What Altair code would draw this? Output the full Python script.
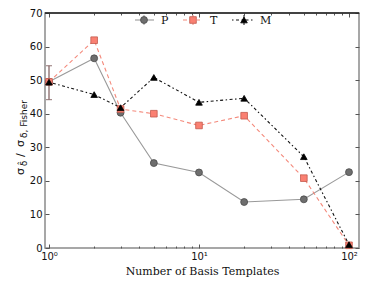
import altair as alt
import pandas as pd

# ---- data ----
templates = [1, 2, 3, 5, 10, 20, 50, 100]
p_vals = [49.5, 56.5, 40.3, 25.3, 22.5, 13.7, 14.5, 22.6]
t_vals = [49.5, 61.9, 41.4, 40.0, 36.5, 39.4, 20.8, 0.8]
m_vals = [49.4, 45.7, 41.8, 50.8, 43.4, 44.6, 27.2, 1.0]
err_x = [1]
err_lo = [44.2]
err_hi = [54.3]
series_names = ["P", "T", "M"]
y_ticks = [0, 10, 20, 30, 40, 50, 60, 70]
x_major = [1, 10, 100]
x_minor = [2, 3, 4, 5, 6, 7, 8, 9, 20, 30, 40, 50, 60, 70, 80, 90]

rows = []
for name, vals in zip(series_names, [p_vals, t_vals, m_vals]):
    for t, v in zip(templates, vals):
        rows.append({"n": t, "v": v, "s": name})
df = pd.DataFrame(rows)
err_df = pd.DataFrame({"n": err_x, "lo": err_lo, "hi": err_hi})

W, H = 314, 235
xscale = alt.Scale(type="log", domain=[0.9404, 116.6], nice=False)
yscale = alt.Scale(domain=[0, 70], nice=False, zero=False)

TICK = "#555555"
styles = {
    "P": dict(line="#999999", dash=[], fill="#6e6e6e", stroke="#4a4a4a", shape="circle", size=48),
    "T": dict(line="#f4897b", dash=[4, 3], fill="#fa8072", stroke="#c25a4e", shape="square", size=44),
    "M": dict(line="#111111", dash=[1.5, 2.5, 3, 2.5], fill="#000000", stroke="#000000", shape="triangle-up", size=44),
}

label_expr = "datum.value == 1 ? '10⁰' : datum.value == 10 ? '10¹' : '10²'"

def xax(**kw):
    base = dict(grid=False, domain=False, tickColor=TICK, title=None)
    base.update(kw)
    return alt.Axis(**base)

base = alt.Chart(df)
layers = []

# axis carrier: bottom major + left major
layers.append(base.mark_point(opacity=0).encode(
    x=alt.X("n:Q", scale=xscale, axis=xax(
        orient="bottom", values=x_major, offset=-4, tickSize=4, labelExpr=label_expr,
        labelFont="DejaVu Sans", labelFontSize=10, labelColor="#111", labelPadding=3,
        title="Number of Basis Templates", titleFont="DejaVu Serif", titleFontSize=11,
        titleFontWeight="normal", titleColor="#111", titlePadding=4)),
    y=alt.Y("v:Q", scale=yscale, axis=xax(
        orient="left", values=y_ticks, offset=-4, tickSize=4, labelFont="DejaVu Sans",
        labelFontSize=10, labelColor="#111", labelPadding=3)),
))
# bottom minor + right major
layers.append(base.mark_point(opacity=0).encode(
    x=alt.X("n:Q", scale=xscale, axis=xax(orient="bottom", values=x_minor, offset=-2, tickSize=2, labels=False)),
    y=alt.Y("v:Q", scale=yscale, axis=xax(orient="right", values=y_ticks, offset=-4, tickSize=4, labels=False)),
))
# top major
layers.append(base.mark_point(opacity=0).encode(
    x=alt.X("n:Q", scale=xscale, axis=xax(orient="top", values=x_major, offset=-4, tickSize=4, labels=False)),
    y=alt.Y("v:Q", scale=yscale, axis=None),
))
# top minor
layers.append(base.mark_point(opacity=0).encode(
    x=alt.X("n:Q", scale=xscale, axis=xax(orient="top", values=x_minor, offset=-2, tickSize=2, labels=False)),
    y=alt.Y("v:Q", scale=yscale, axis=None),
))

# error bar
eb = alt.Chart(err_df)
errc = "#7d5a5a"
layers.append(eb.mark_rule(color=errc, strokeWidth=1.2).encode(
    x=alt.X("n:Q", scale=xscale, axis=None),
    y=alt.Y("lo:Q", scale=yscale, axis=None), y2="hi:Q"))
for col in ["lo", "hi"]:
    layers.append(eb.mark_tick(color=errc, orient="horizontal", size=6, thickness=1.2).encode(
        x=alt.X("n:Q", scale=xscale, axis=None),
        y=alt.Y(f"{col}:Q", scale=yscale, axis=None)))

for name in series_names:
    st = styles[name]
    sub = base.transform_filter(alt.datum.s == name)
    line_kw = dict(color=st["line"], strokeWidth=1.1)
    if st["dash"]:
        line_kw["strokeDash"] = st["dash"]
    layers.append(sub.mark_line(**line_kw).encode(
        x=alt.X("n:Q", scale=xscale, axis=None),
        y=alt.Y("v:Q", scale=yscale, axis=None)))
for name in series_names:
    st = styles[name]
    sub = base.transform_filter(alt.datum.s == name)
    layers.append(sub.mark_point(filled=True, shape=st["shape"], size=st["size"], fill=st["fill"],
                                 stroke=st["stroke"], strokeWidth=0.8, opacity=1).encode(
        x=alt.X("n:Q", scale=xscale, axis=None),
        y=alt.Y("v:Q", scale=yscale, axis=None)))

# top frame line (black)
layers.append(alt.Chart(pd.DataFrame({"a": [0]})).mark_rule(color="#222", strokeWidth=1.5).encode(
    x=alt.value(0), x2=alt.value(W), y=alt.value(0)))

# legend
leg_df = pd.DataFrame({"a": [0]})
leg_pos = {"P": (90, 109, 99, 116), "T": (138, 155, 148, 165), "M": (187, 208, 199, 215)}
ly = 7
for name in series_names:
    st = styles[name]
    x0, x1, xm, xl = leg_pos[name]
    lkw = dict(color=st["line"], strokeWidth=1.1)
    if st["dash"]:
        lkw["strokeDash"] = st["dash"]
    lc = alt.Chart(leg_df)
    layers.append(lc.mark_rule(**lkw).encode(x=alt.value(x0), x2=alt.value(x1), y=alt.value(ly)))
    layers.append(lc.mark_rule(color=st["line"], strokeWidth=1).encode(
        x=alt.value(xm), y=alt.value(ly - 5), y2=alt.value(ly + 5)))
    layers.append(lc.mark_point(filled=True, shape=st["shape"], size=st["size"], fill=st["fill"],
                                stroke=st["stroke"], strokeWidth=0.8, opacity=1).encode(
        x=alt.value(xm), y=alt.value(ly)))
    layers.append(lc.mark_text(text=name, font="DejaVu Serif", fontSize=11, align="left",
                               baseline="middle", color="#111").encode(
        x=alt.value(xl), y=alt.value(ly + 1)))

# y title built from pieces (sigma with subscripts)
tc = alt.Chart(leg_df)
ytitle_parts = [
    ("σ", 162, -21, 11),
    ("δ̂", 153, -18, 8.5),
    ("/", 144, -21, 11),
    ("σ", 134, -21, 11),
    ("δ, Fisher", 125, -18, 9),
]
for txt, yy, xx, fs in ytitle_parts:
    layers.append(tc.mark_text(text=txt, font="DejaVu Sans", fontSize=fs, angle=270, align="left",
                               baseline="alphabetic", color="#111").encode(
        x=alt.value(xx), y=alt.value(yy)))

chart = alt.layer(*layers).resolve_axis(x="independent", y="independent").properties(
    width=W, height=H,
    autosize=alt.AutoSizeParams(type="none"),
    padding={"left": 37, "top": 5, "right": 6, "bottom": 30},
).configure_view(stroke="#8a8a8a", strokeWidth=1.5)

chart.save("out.html", embed_options={"renderer": "svg", "actions": False})
